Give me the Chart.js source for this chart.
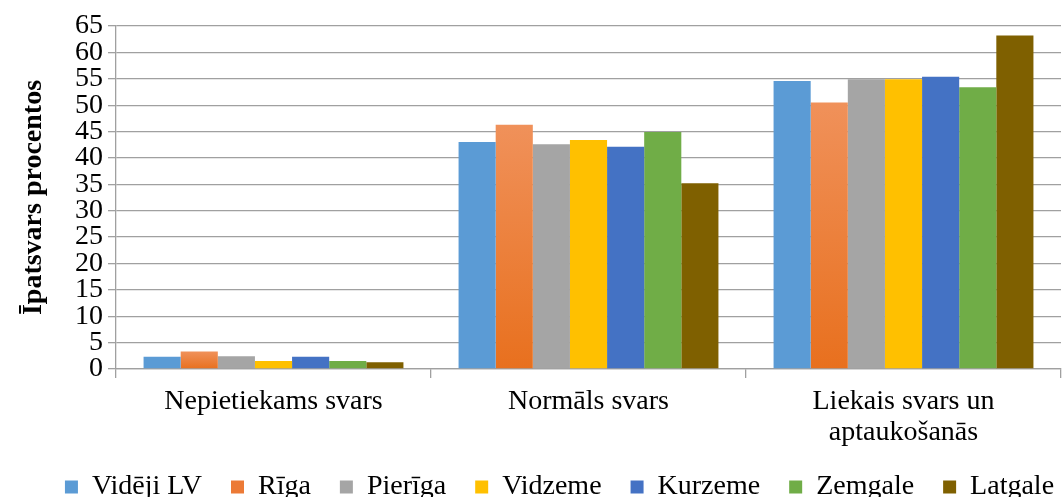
<!DOCTYPE html>
<html>
<head>
<meta charset="utf-8">
<script src="https://cdn.jsdelivr.net/npm/chart.js@4/dist/chart.umd.min.js"></script>
<style>
  html, body { margin: 0; padding: 0; background: #ffffff; }
  #wrap { width: 1062px; height: 497px; position: relative; }
</style>
</head>
<body>
<div id="wrap"><canvas id="c"></canvas></div>
<script>
// Categories (x axis), multi-line where the label wraps
const categories = [
  'Nepietiekams svars',
  'Normāls svars',
  ['Liekais svars un', 'aptaukošanās']
];

// Series names
const seriesNames = ['Vidēji LV', 'Rīga', 'Pierīga', 'Vidzeme', 'Kurzeme', 'Zemgale', 'Latgale'];

// Share of respondents, %
const videjiLV = [2.3, 43.0, 54.6];
const riga     = [3.3, 46.3, 50.5];
const pieriga  = [2.4, 42.6, 54.9];
const vidzeme  = [1.5, 43.4, 54.9];
const kurzeme  = [2.3, 42.1, 55.4];
const zemgale  = [1.5, 44.9, 53.4];
const latgale  = [1.3, 35.2, 63.2];

// Y axis ticks
const yTicks = [0, 5, 10, 15, 20, 25, 30, 35, 40, 45, 50, 55, 60, 65];

const seriesValues = [videjiLV, riga, pieriga, vidzeme, kurzeme, zemgale, latgale];
const seriesColors = ['#5B9BD5', '#EC7A36', '#A5A5A5', '#FFC000', '#4472C4', '#70AD47', '#7F6000'];

// Rīga bars use a vertical orange gradient, one per bar
function rigaFill(ctx) {
  const solid = '#EC7A36';
  if (ctx.type !== 'data' || !ctx.parsed) return solid;
  const chart = ctx.chart;
  const ys = chart.scales.y;
  if (!ys || !chart.chartArea) return solid;
  const top = ys.getPixelForValue(ctx.parsed.y);
  const base = ys.getPixelForValue(0);
  if (!isFinite(top) || !isFinite(base) || top === base) return solid;
  const g = chart.ctx.createLinearGradient(0, top, 0, base);
  g.addColorStop(0, '#F0915A');
  g.addColorStop(1, '#E8701E');
  return g;
}

const datasets = seriesNames.map((name, i) => ({
  label: name,
  data: seriesValues[i],
  backgroundColor: i === 1 ? rigaFill : seriesColors[i],
  borderWidth: 0,
  categoryPercentage: 0.825,
  barPercentage: 1.0
}));

const FONT = "'Liberation Serif', 'Times New Roman', serif";
const GRID = '#A0A0A0';

// Moves the legend row after layout so it sits under the wrapped axis labels
const legendShift = {
  id: 'legendShift',
  afterLayout(chart) {
    const lg = chart.legend;
    if (!lg) return;
    const dx = 29, dy = -12;
    lg.left += dx;
    lg.right += dx;
    lg.top += dy;
    lg.bottom += dy;
    if (lg.legendHitBoxes) lg.legendHitBoxes.forEach(b => { b.left += dx; b.top += dy; });
  }
};

new Chart(document.getElementById('c'), {
  type: 'bar',
  data: { labels: categories, datasets: datasets },
  plugins: [legendShift],
  options: {
    responsive: true,
    maintainAspectRatio: false,
    animation: false,
    layout: { padding: { top: 26, right: 1, left: 0, bottom: -26 } },
    plugins: {
      title: { display: false },
      tooltip: { enabled: false },
      legend: {
        position: 'bottom',
        labels: {
          color: '#000000',
          font: { family: FONT, size: 28 },
          boxWidth: 13,
          boxHeight: 13,
          padding: 29,
          generateLabels(chart) {
            return chart.data.datasets.map((ds, i) => ({
              text: ds.label,
              fillStyle: seriesColors[i],
              strokeStyle: seriesColors[i],
              lineWidth: 0,
              hidden: false,
              datasetIndex: i
            }));
          }
        }
      }
    },
    scales: {
      x: {
        offset: true,
        grid: {
          display: true,
          offset: true,
          drawOnChartArea: false,
          drawTicks: true,
          tickLength: 9,
          color: GRID,
          lineWidth: 1.3
        },
        border: { display: true, color: GRID, width: 1.3 },
        ticks: {
          color: '#000000',
          font: { family: FONT, size: 28, lineHeight: 1.08 },
          padding: 9,
          maxRotation: 0,
          autoSkip: false
        },
        afterFit(scale) { scale.height = 87; }
      },
      y: {
        min: 0,
        max: 65,
        afterBuildTicks(scale) { scale.ticks = yTicks.map(v => ({ value: v })); },
        grid: {
          color: GRID,
          lineWidth: 1.3,
          drawTicks: true,
          tickLength: 8
        },
        border: { display: true, color: GRID, width: 1.3 },
        ticks: {
          color: '#000000',
          font: { family: FONT, size: 28 },
          padding: 5,
          autoSkip: false,
          stepSize: 5
        },
        title: {
          display: true,
          text: 'Īpatsvars procentos',
          color: '#000000',
          font: { family: FONT, size: 28, weight: 'bold' },
          padding: { top: 17, bottom: 0 }
        },
        afterFit(scale) { scale.width = 116; }
      }
    }
  }
});
</script>
</body>
</html>
